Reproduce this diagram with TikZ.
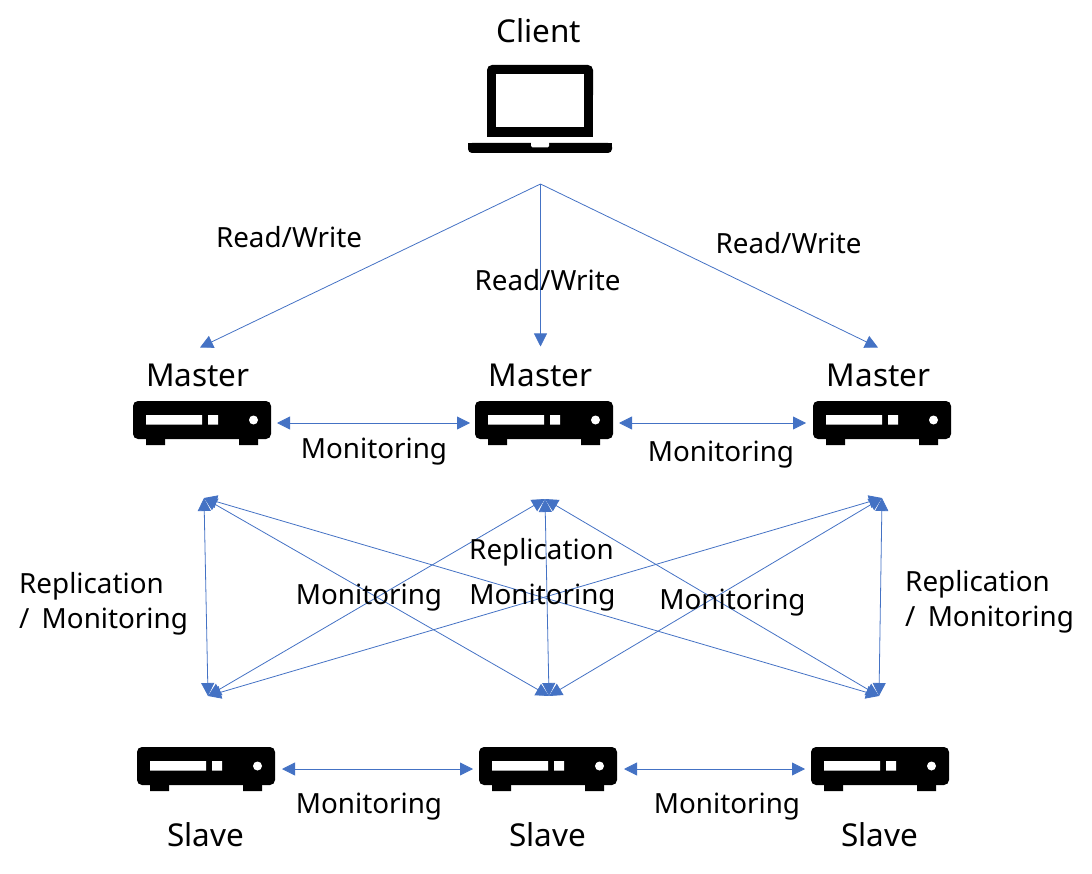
\documentclass[tikz,border=0pt]{standalone}
\usepackage{fontspec}
\setmainfont{Noto Sans}
\usetikzlibrary{arrows.meta}
\definecolor{linkblue}{HTML}{4472C4}
\tikzset{
  x=1pt,y=-1pt,
  link/.style={draw=linkblue,line width=0.8pt},
  oneway/.style={link,-{Triangle[length=13pt,width=13pt]}},
  twoway/.style={link,{Triangle[length=13pt,width=13pt]}-{Triangle[length=13pt,width=13pt]}},
  big/.style={inner sep=0pt,font=\fontsize{31.5}{38}\selectfont},
  small/.style={inner sep=0pt,font=\fontsize{27.8}{35}\selectfont,align=left},
  pics/server/.style={code={
    \fill[black,rounded corners=5pt] (0,0) rectangle (138,38);
    \fill[black] (13,36) rectangle (32,44) (106,36) rectangle (125,44);
    \fill[white] (13,14) rectangle (69,23.5) (75,14) rectangle (85,23.5);
    \fill[white] (120.5,19) circle (4.5);
  }}
}
\begin{document}
\begin{tikzpicture}
\useasboundingbox (0,0) rectangle (1092,874);
% laptop
\fill[black,rounded corners=5pt] (487,65) rectangle (593,100) ;
\fill[black] (487,85) rectangle (593,137);
\fill[white] (496,74) rectangle (584,127);
\fill[black,rounded corners=4pt] (468,143) -- (468,153) -- (612,153) -- (612,143) -- cycle;
\fill[black] (468,143) rectangle (612,147);
\fill[white,rounded corners=1.5pt] (531,141) -- (531,147.5) -- (549,147.5) -- (549,141) -- cycle;
% servers
\pic at (133,401) {server};
\pic at (475,401) {server};
\pic at (813,401) {server};
\pic at (137,747) {server};
\pic at (479,747) {server};
\pic at (811,747) {server};
% anchors
\coordinate (client) at (540.5,184);
\coordinate (m1in) at (200,347.5);
\coordinate (m2in) at (540.5,346.5);
\coordinate (m3in) at (878,347.5);
\coordinate (m1r) at (277,423);
\coordinate (m2l) at (470,423);
\coordinate (m2r) at (619,423);
\coordinate (m3l) at (806,423);
\coordinate (s1r) at (282,769);
\coordinate (s2l) at (473,769);
\coordinate (s2r) at (624,769);
\coordinate (s3l) at (805,769);
\coordinate (tl) at (204,498);
\coordinate (tc) at (545,499);
\coordinate (tr) at (882,498);
\coordinate (bl) at (208,696);
\coordinate (bc) at (549,696);
\coordinate (br) at (879,696);
% connectors
\draw[oneway] (client) -- (m1in);
\draw[oneway] (client) -- (m2in);
\draw[oneway] (client) -- (m3in);
\draw[twoway] (m1r) -- (m2l);
\draw[twoway] (m2r) -- (m3l);
\draw[twoway] (s1r) -- (s2l);
\draw[twoway] (s2r) -- (s3l);
\foreach \a in {tl,tc,tr}
  \foreach \b in {bl,bc,br}
    \draw[twoway] (\a) -- (\b);
% labels
\node[big] (tclient) at (538.5,31) {Client};
\node[big] (tm1) at (198,375.5) {Master};
\node[big] (tm2) at (540.5,375.5) {Master};
\node[big] (tm3) at (878.5,375.5) {Master};
\node[big] (ts1) at (205.5,835) {Slave};
\node[big] (ts2) at (547.5,835) {Slave};
\node[big] (ts3) at (879.5,835) {Slave};
\node[small] (rw1) at (289,237.5) {Read/Write};
\node[small] (rw2) at (547.5,280) {Read/Write};
\node[small] (rw3) at (788.5,243) {Read/Write};
\node[small] (mo1) at (374,451.5) {Monitoring};
\node[small] (mo2) at (721,454.5) {Monitoring};
\node[small] (mo3) at (369,597.5) {Monitoring};
\node[small] (mo4) at (542.5,597.5) {Monitoring};
\node[small] (mo5) at (732.5,602.5) {Monitoring};
\node[small] (mo6) at (369,806.5) {Monitoring};
\node[small] (mo7) at (727,806.5) {Monitoring};
\node[small] (re1) at (541.5,552) {Replication};
\node[small,anchor=west] (re2) at (19,603.5) {Replication\\/\hspace{5pt} Monitoring};
\node[small,anchor=west] (re3) at (905,601.5) {Replication\\/\hspace{5pt} Monitoring};
\end{tikzpicture}
\end{document}
